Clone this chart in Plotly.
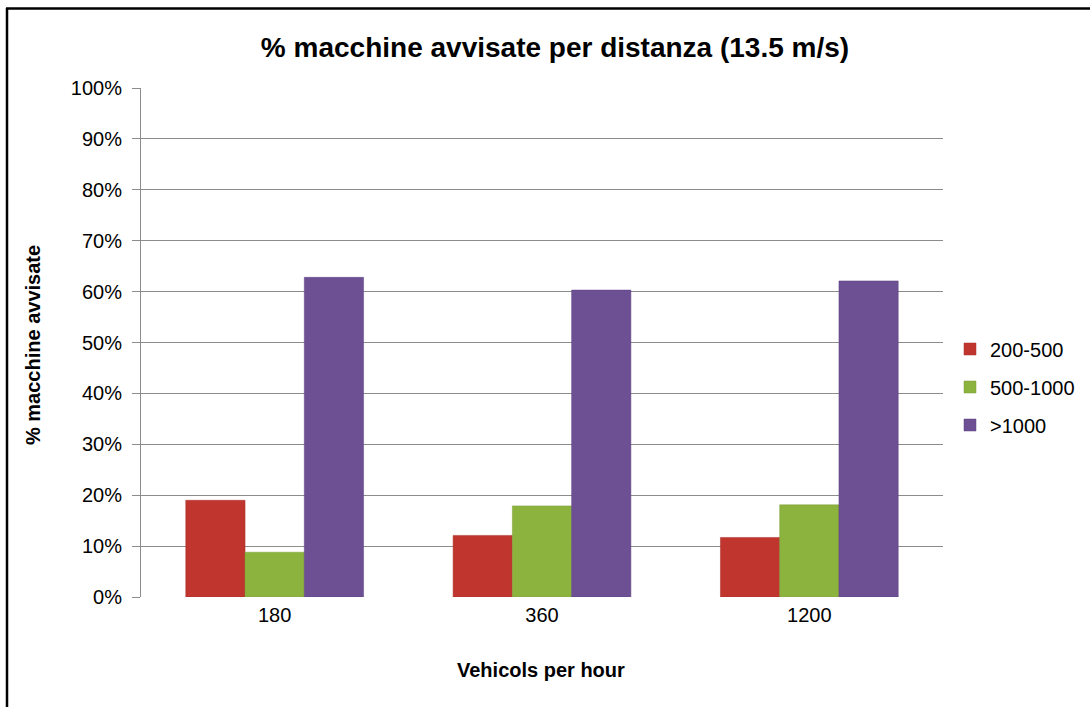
import plotly.graph_objects as go

# Traffic density categories (vehicles per hour)
categories = ["180", "360", "1200"]

# Share of warned cars per distance band (fraction of total)
band_200_500 = [0.190, 0.121, 0.117]
band_500_1000 = [0.088, 0.179, 0.181]
band_over_1000 = [0.628, 0.603, 0.621]

series_names = ["200-500", "500-1000", ">1000"]
series_colors = ["#C0362F", "#8DB33F", "#6D5094"]
series_lines = ["#A82C29", "#7A9C35", "#5C4380"]

tick_vals = [i / 10 for i in range(11)]
tick_text = [f"{i * 10}%" for i in range(11)]

FONT = "Liberation Sans, Arial, sans-serif"

fig = go.Figure()
for i, (name, vals) in enumerate(zip(series_names, [band_200_500, band_500_1000, band_over_1000])):
    fig.add_trace(go.Bar(
        x=categories,
        y=vals,
        name=name,
        legendgroup=name,
        marker=dict(color=series_colors[i], line=dict(color=series_lines[i], width=0.5)),
    ))

# Plot area geometry in pixels (used for the frame lines and labels)
L, R, T, B = 141, 147, 88, 110
W, H = 1090, 707
pw = W - L - R
ph = H - T - B

def px_x(x):
    return (x - L) / pw

def px_y(y):
    return (H - B - y) / ph

fig.update_layout(
    width=W,
    height=H,
    margin=dict(l=L, r=R, t=T, b=B, autoexpand=False),
    paper_bgcolor="white",
    plot_bgcolor="white",
    barmode="group",
    bargap=0.335,
    bargroupgap=0,
    font=dict(family=FONT, size=20, color="#000000"),
    title=dict(
        text="<b>% macchine avvisate per distanza (13.5 m/s)</b>",
        font=dict(family=FONT, size=28, color="#000000"),
        x=px_x(555), xref="paper", xanchor="center",
        y=1 - 47 / H, yref="container", yanchor="middle",
    ),
    showlegend=True,
    legend=dict(
        x=px_x(950), xanchor="left",
        y=px_y(387), yanchor="middle",
        font=dict(family=FONT, size=20, color="#000000"),
        tracegroupgap=9,
        bgcolor="rgba(0,0,0,0)",
        borderwidth=0,
    ),
    xaxis=dict(
        type="category",
        showgrid=False,
        showline=False,
        ticks="",
        tickfont=dict(family=FONT, size=20, color="#000000"),
        ticklabelstandoff=4,
    ),
    yaxis=dict(
        range=[0, 1],
        tickvals=tick_vals,
        ticktext=tick_text,
        showgrid=True,
        gridcolor="#8C8C8C",
        gridwidth=1,
        showline=True,
        linecolor="#8C8C8C",
        linewidth=1,
        ticks="outside",
        ticklen=8,
        tickcolor="#8C8C8C",
        tickfont=dict(family=FONT, size=20, color="#000000"),
        ticklabelstandoff=6,
        zeroline=False,
    ),
    annotations=[
        dict(
            text="<b>% macchine avvisate</b>",
            x=px_x(33), y=px_y(345), xref="paper", yref="paper",
            xanchor="center", yanchor="middle", textangle=-90,
            showarrow=False, font=dict(family=FONT, size=20, color="#000000"),
        ),
        dict(
            text="<b>Vehicols per hour</b>",
            x=px_x(541), y=px_y(670), xref="paper", yref="paper",
            xanchor="center", yanchor="middle",
            showarrow=False, font=dict(family=FONT, size=20, color="#000000"),
        ),
    ],
    shapes=[
        # outer frame: left and top edges
        dict(type="line", xref="paper", yref="paper",
             x0=px_x(7), x1=px_x(7), y0=px_y(8), y1=px_y(720),
             line=dict(color="#000000", width=2.5)),
        dict(type="line", xref="paper", yref="paper",
             x0=px_x(6), x1=px_x(1100), y0=px_y(8.5), y1=px_y(8.5),
             line=dict(color="#000000", width=2.5)),
    ],
)

fig.write_html("out.html")
